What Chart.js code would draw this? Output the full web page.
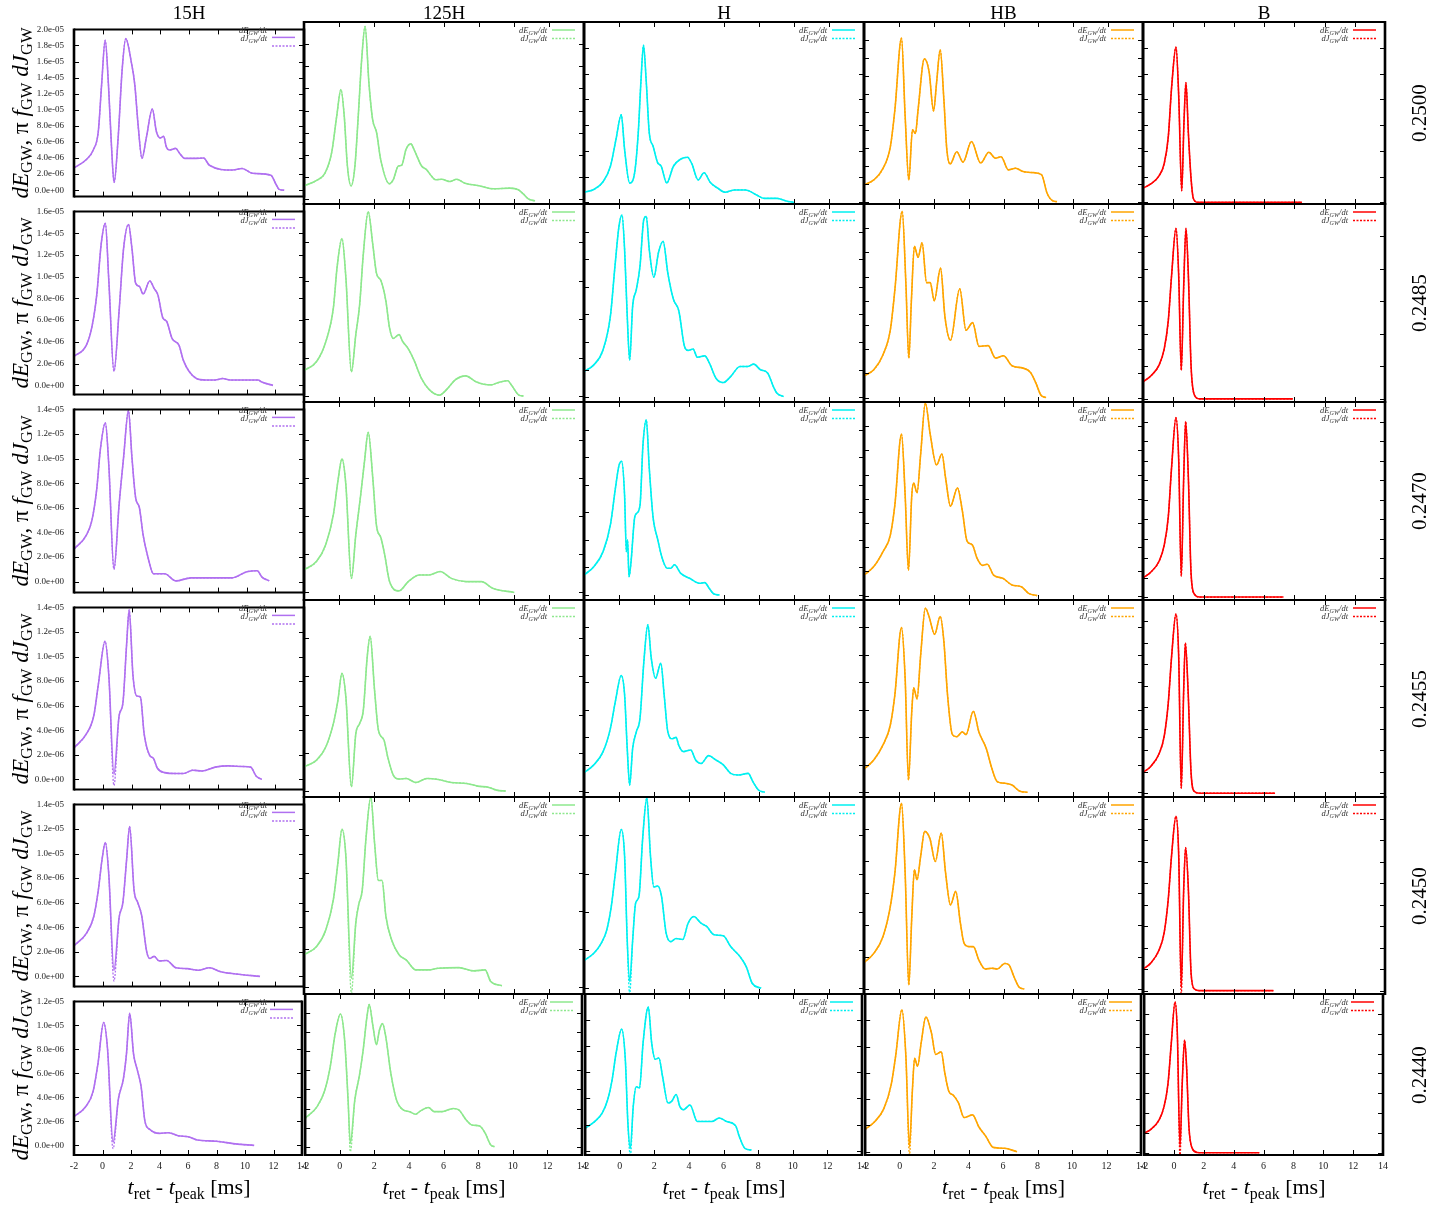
<!DOCTYPE html>
<html>
<head>
<meta charset="utf-8">
<script src="https://cdn.jsdelivr.net/npm/chart.js@4.4.1/dist/chart.umd.min.js"></script>
<style>
  body { margin: 0; width: 1451px; height: 1205px; background: #fff; position: relative; overflow: hidden;
         font-family: "Liberation Serif", "DejaVu Serif", serif; color: #000; }
  canvas { position: absolute; }
  .txt { position: absolute; white-space: nowrap; line-height: 1; }
  .ctitle { font-size: 19px; transform: translate(-50%, -50%); }
  .xtitle { font-size: 22px; transform: translate(-50%, -50%); }
  .rlab { font-size: 21px; transform: translate(-50%, -50%) rotate(-90deg); }
  .ytitle { font-size: 23px; transform: translate(-50%, -50%) rotate(-90deg); }
  .leg { position: absolute; transform: translateX(-100%); text-align: right; font-size: 8.5px; font-style: italic;
         line-height: 8.5px; color: #333; white-space: nowrap; }
  sub { font-size: 0.72em; vertical-align: -0.3em; line-height: 0; font-style: normal; }
  .leg sub { font-style: italic; }
</style>
</head>
<body>
<script>
"use strict";

// column / row names
const models = ["15H", "125H", "H", "HB", "B"];
const ratios = ["0.2500", "0.2485", "0.2470", "0.2455", "0.2450", "0.2440"];
const colors = ["#b070f0", "#8ee88e", "#00f0f0", "#ffa500", "#ff0000"];
const xTicks = [-2, 0, 2, 4, 6, 8, 10, 12, 14];

// dE_GW/dt curves, [t_ret - t_peak (ms), value (1e-6)]
// ---- row 0.2500
const s15H_2500 = [[-2,2.77],[-1.12,3.85],[-0.66,5.0],[-0.31,7.3],[-0.08,13.1],[0.17,18.65],[0.40,13.0],[0.61,5.4],[0.79,0.96],[1.07,6.5],[1.35,15.0],[1.60,18.85],[2.0,15.8],[2.23,13.1],[2.46,8.1],[2.73,3.96],[3.03,6.5],[3.45,10.1],[3.73,7.3],[4.0,6.5],[4.24,6.7],[4.42,5.4],[4.65,5.0],[5.07,5.2],[5.34,4.6],[5.69,3.96],[6.5,3.96],[7.01,4.0],[7.42,3.1],[9.04,2.5],[9.69,2.7],[10.42,2.1],[11.7,1.85],[12.04,0.77],[12.27,0.1],[12.62,0]];
const s125H_2500 = [[-2,1.2],[-1.28,1.7],[-0.8,2.36],[-0.42,4.2],[-0.13,7.5],[0.11,9.9],[0.3,7.5],[0.48,3.0],[0.69,1.2],[0.91,3.0],[1.1,7.5],[1.3,12.7],[1.49,15.6],[1.71,10.5],[1.92,7.2],[2.15,6.0],[2.38,3.6],[2.88,1.4],[3.1,1.76],[3.39,3.0],[3.58,3.06],[3.83,4.5],[4.1,5.0],[4.34,4.3],[4.72,3.0],[5.0,2.67],[5.3,2.06],[5.52,1.76],[5.87,1.8],[6.34,1.6],[6.72,1.8],[7.2,1.45],[8.06,1.2],[8.82,0.94],[9.77,1.0],[10.25,0.85],[10.53,0.48],[10.82,0.03],[11.2,-0.15]];
const sH_2500 = [[-2,0.78],[-1.44,1.0],[-0.91,1.6],[-0.49,2.8],[-0.17,4.9],[0.13,6.8],[0.32,4.1],[0.61,1.5],[0.89,2.27],[1.1,5.4],[1.25,9.3],[1.4,12.2],[1.56,9.3],[1.73,5.4],[1.95,4.35],[2.2,3.1],[2.41,2.8],[2.73,1.5],[3.11,2.8],[3.53,3.36],[3.91,3.5],[4.16,3.0],[4.52,1.74],[4.86,2.3],[5.22,1.54],[5.64,1.1],[6.07,0.78],[6.6,0.96],[7.23,0.96],[7.86,0.57],[8.29,0.31],[9.03,0.31],[9.56,0.1],[10.02,0]];
const sHB_2500 = [[-2,1.86],[-1.44,2.42],[-0.91,3.7],[-0.49,6.1],[-0.23,10.2],[0.15,18.2],[0.36,9.5],[0.57,2.42],[0.78,8.0],[0.95,7.6],[1.1,10.2],[1.46,15.9],[1.73,14.5],[1.99,10.1],[2.16,13.2],[2.37,16.9],[2.58,11.4],[2.75,5.8],[2.94,4.2],[3.32,5.55],[3.68,4.4],[4.16,6.7],[4.69,4.3],[5.16,5.5],[5.54,4.84],[5.86,5.0],[6.28,3.54],[6.7,3.72],[7.12,3.35],[7.65,3.24],[8.18,3.0],[8.5,0.93],[8.82,0.1],[9.07,0]];
const sB_2500 = [[-2,1.1],[-1.49,1.43],[-0.93,2.08],[-0.6,3.0],[-0.33,5.06],[-0.11,8.9],[0.18,12.05],[0.36,8.3],[0.56,0.9],[0.71,6.25],[0.84,9.3],[1.0,5.36],[1.18,1.8],[1.33,0.3],[1.62,0],[8.51,0]];
// ---- row 0.2485
const s15H_2485 = [[-2,2.66],[-1.14,3.7],[-0.75,5.4],[-0.42,8.3],[-0.1,13.1],[0.18,14.9],[0.42,9.7],[0.78,1.3],[1.14,6.9],[1.45,12.6],[1.79,14.8],[2.03,12.6],[2.29,9.4],[2.55,9.1],[2.81,8.4],[3.27,9.6],[3.58,8.9],[3.84,8.3],[4.18,6.2],[4.44,5.9],[4.83,4.3],[5.3,3.7],[5.61,2.3],[6.0,1.3],[6.52,0.63],[7.17,0.49],[7.82,0.49],[8.34,0.63],[8.86,0.49],[10.81,0.49],[11.06,0.3],[11.84,0]];
const s125H_2485 = [[-2,1.33],[-1.28,1.8],[-0.75,2.84],[-0.32,4.6],[-0.11,6.7],[0.17,8.2],[0.39,6.2],[0.71,1.27],[0.96,3.2],[1.18,4.76],[1.39,7.4],[1.67,9.6],[1.93,7.9],[2.14,6.4],[2.4,6.0],[2.68,4.94],[2.89,3.54],[3.1,3.0],[3.43,3.2],[3.64,2.84],[3.96,2.46],[4.28,1.88],[4.71,0.92],[5.14,0.35],[5.74,0.05],[6.21,0.4],[6.64,0.84],[7.24,1.05],[7.82,0.75],[8.67,0.58],[9.1,0.7],[9.64,0.8],[9.85,0.58],[10.28,0.05],[10.54,0]];
const sH_2485 = [[-2,1.87],[-1.44,2.35],[-0.91,3.45],[-0.49,5.9],[-0.23,9.5],[0,12.4],[0.17,13.2],[0.32,10.7],[0.47,5.9],[0.61,2.7],[0.78,6.6],[0.99,7.8],[1.2,9.5],[1.42,12.9],[1.56,13.1],[1.73,10.7],[1.99,8.7],[2.26,10.5],[2.52,11.3],[2.79,9.0],[3.11,7.1],[3.42,6.25],[3.74,3.7],[3.95,3.4],[4.23,3.5],[4.48,2.9],[4.9,3.0],[5.16,2.5],[5.54,1.38],[5.96,1.07],[6.38,1.5],[6.91,2.23],[7.34,2.23],[7.7,2.4],[8.08,2.0],[8.5,1.75],[8.82,0.78],[9.03,0.29],[9.41,0.05]];
const sHB_2485 = [[-2,1.8],[-1.44,2.3],[-0.91,3.55],[-0.49,5.6],[-0.23,8.9],[0.19,15.4],[0.4,9.5],[0.57,3.27],[0.72,8.1],[0.89,12.5],[1.1,11.6],[1.33,12.8],[1.59,9.5],[1.8,9.5],[2.03,8.0],[2.39,10.7],[2.64,6.7],[2.96,4.74],[3.49,9.0],[3.85,5.57],[4.23,6.2],[4.59,4.24],[5.12,4.3],[5.54,3.27],[6.0,3.46],[6.49,2.63],[7.12,2.44],[7.55,2.08],[7.86,1.2],[8.14,0.22],[8.44,0]];
const sB_2485 = [[-2,1.06],[-1.49,1.41],[-0.93,2.1],[-0.6,3.06],[-0.33,4.8],[-0.11,7.6],[0.18,10.5],[0.36,7.6],[0.53,1.76],[0.69,6.9],[0.84,10.5],[1.0,7.6],[1.18,2.0],[1.4,0.24],[1.73,0],[7.91,0]];
// ---- row 0.2470
const s15H_2470 = [[-2,2.64],[-1.14,3.77],[-0.75,5.0],[-0.42,7.5],[-0.16,10.8],[0.18,12.9],[0.42,9.5],[0.78,1.0],[1.14,6.3],[1.45,10.1],[1.79,13.9],[2.03,10.1],[2.29,6.8],[2.55,6.0],[2.81,3.77],[3.14,2.0],[3.53,0.63],[4.31,0.63],[5.09,0.05],[6.13,0.3],[8.99,0.3],[10.03,0.8],[10.75,0.88],[11.06,0.38],[11.58,0.05]];
const s125H_2470 = [[-2,1.15],[-1.28,1.6],[-0.75,2.5],[-0.32,4.07],[-0.06,5.84],[0.17,7.0],[0.39,5.66],[0.71,0.7],[0.96,3.0],[1.24,5.1],[1.46,6.9],[1.67,8.4],[1.93,6.0],[2.14,3.5],[2.4,2.83],[2.61,1.95],[2.89,0.53],[3.43,0.04],[3.96,0.53],[4.6,0.88],[5.14,0.88],[5.78,1.06],[6.42,0.7],[7.28,0.53],[8.14,0.53],[8.78,0.18],[10.02,-0.04]];
const sH_2470 = [[-2,1.45],[-1.44,2.06],[-0.91,3.15],[-0.49,5.1],[-0.21,7.7],[0,9.4],[0.15,9.7],[0.32,7.2],[0.42,3.15],[0.49,4.0],[0.57,1.33],[0.68,2.3],[0.89,5.6],[0.99,5.9],[1.2,6.5],[1.37,10.9],[1.56,12.7],[1.73,9.2],[1.95,5.6],[2.2,4.1],[2.47,2.66],[2.75,1.94],[2.96,1.94],[3.17,2.2],[3.53,1.57],[4.06,1.2],[4.59,0.85],[4.9,0.9],[5.16,0.48],[5.43,0.07],[5.75,0]];
const sHB_2470 = [[-2,1.7],[-1.44,2.4],[-0.91,3.64],[-0.49,5.0],[-0.23,7.5],[0.15,13.35],[0.36,8.3],[0.55,2.1],[0.74,8.3],[0.85,9.3],[1.04,8.5],[1.25,11.7],[1.52,15.9],[1.8,13.3],[2.16,10.8],[2.47,11.7],[2.68,9.7],[2.96,7.4],[3.36,8.9],[3.64,7.0],[3.91,4.5],[4.21,4.2],[4.48,3.1],[4.8,2.5],[5.07,2.6],[5.43,1.7],[5.96,1.43],[6.49,0.88],[7.02,0.74],[7.44,0.19],[7.93,0]];
const sB_2470 = [[-2,1.96],[-1.49,2.55],[-0.93,3.7],[-0.6,5.3],[-0.33,8.2],[-0.11,13.3],[0.18,18.4],[0.36,14.1],[0.53,2.16],[0.69,12.2],[0.82,18.0],[1.0,12.2],[1.18,2.35],[1.4,0.3],[1.73,0],[7.29,0]];
// ---- row 0.2455
const s15H_2455 = [[-2,2.57],[-1.14,3.7],[-0.62,5.2],[-0.31,7.7],[0.16,11.25],[0.42,8.5],[0.78,0.43],[1.14,5.2],[1.4,6.2],[1.66,11.0],[1.84,13.8],[2.1,8.5],[2.36,6.8],[2.62,6.7],[2.88,3.7],[3.27,1.94],[3.53,1.7],[3.79,0.93],[4.31,0.55],[5.09,0.48],[5.61,0.48],[6.26,0.75],[6.91,0.68],[7.82,1.0],[8.73,1.1],[9.77,1.05],[10.29,1.0],[10.68,0.25],[11.06,0]];
const s125H_2455 = [[-2,1.27],[-1.28,1.62],[-0.75,2.32],[-0.32,3.54],[-0.06,4.76],[0.17,6.16],[0.39,4.94],[0.71,0.23],[0.96,3.0],[1.18,3.54],[1.39,4.24],[1.61,7.0],[1.78,8.1],[2.03,5.3],[2.25,3.2],[2.57,2.67],[2.78,1.8],[3.1,0.84],[3.43,0.63],[3.85,0.66],[4.39,0.45],[5.03,0.66],[5.67,0.61],[6.42,0.45],[7.28,0.4],[7.92,0.26],[8.57,0.19],[9.0,0.05],[9.53,0]];
const sH_2455 = [[-2,1.43],[-1.44,2.0],[-0.91,2.96],[-0.49,4.66],[-0.21,6.6],[0.13,8.5],[0.32,7.1],[0.47,3.2],[0.61,0.53],[0.78,3.2],[0.99,4.4],[1.2,5.4],[1.42,9.5],[1.65,12.2],[1.84,9.8],[2.09,8.3],[2.39,9.4],[2.58,7.1],[2.79,4.4],[3.04,3.9],[3.26,4.0],[3.42,3.4],[3.68,2.96],[4.1,3.08],[4.38,2.35],[4.69,2.1],[5.12,2.67],[5.54,2.35],[5.96,2.0],[6.38,1.38],[6.81,1.26],[7.38,1.38],[7.65,0.78],[7.97,0.17],[8.33,0]];
const sHB_2455 = [[-2,1.7],[-1.44,2.35],[-0.91,3.45],[-0.49,4.9],[-0.23,7.1],[0.15,12.0],[0.36,8.3],[0.55,0.9],[0.74,5.9],[0.85,7.6],[1.04,6.8],[1.25,10.0],[1.52,13.4],[1.73,12.8],[2.05,11.5],[2.37,12.8],[2.58,11.0],[2.79,7.1],[3.07,4.2],[3.32,4.05],[3.64,4.4],[3.85,4.2],[4.27,5.9],[4.59,4.4],[5.01,3.2],[5.33,1.75],[5.64,0.78],[6.07,0.66],[6.49,0.53],[6.91,0.1],[7.38,0]];
const sB_2455 = [[-2,1.93],[-1.49,2.5],[-0.93,3.7],[-0.6,5.3],[-0.33,8.4],[-0.11,12.7],[0.18,16.7],[0.36,12.7],[0.53,0.47],[0.69,9.6],[0.8,14.0],[0.98,9.6],[1.18,1.86],[1.4,0.16],[1.73,0],[6.73,0]];
// ---- row 0.2450
const s15H_2450 = [[-2,2.5],[-1.14,3.5],[-0.62,4.9],[-0.31,7.0],[-0.05,9.5],[0.18,10.9],[0.42,8.3],[0.78,0.5],[1.14,4.8],[1.4,6.0],[1.66,9.5],[1.87,12.2],[2.18,7.0],[2.44,6.0],[2.7,5.0],[3.06,2.0],[3.27,1.46],[3.58,1.63],[3.92,1.26],[4.44,1.3],[5.09,0.7],[5.87,0.63],[6.65,0.5],[7.43,0.7],[8.21,0.38],[9.25,0.2],[10.94,0]];
const s125H_2450 = [[-2,1.68],[-1.28,2.12],[-0.75,3.0],[-0.32,4.6],[-0.06,6.55],[0.17,8.3],[0.39,6.9],[0.71,0.44],[0.96,3.36],[1.13,4.34],[1.33,5.1],[1.54,7.8],[1.82,10.0],[2.03,7.6],[2.25,5.6],[2.46,5.6],[2.68,3.7],[3.0,2.48],[3.43,1.68],[3.85,1.4],[4.39,0.88],[5.14,0.88],[5.67,0.97],[6.85,1.0],[7.71,0.83],[8.35,0.88],[8.67,0.27],[9.31,0.05]];
const sH_2450 = [[-2,1.45],[-1.44,1.83],[-1.01,2.36],[-0.7,3.05],[-0.44,4.28],[-0.21,6.0],[0.13,8.3],[0.32,6.9],[0.47,2.5],[0.61,0.35],[0.78,2.5],[0.95,4.45],[1.14,4.8],[1.35,7.8],[1.59,9.95],[1.8,6.9],[1.99,5.3],[2.22,5.35],[2.43,4.8],[2.69,2.9],[2.96,2.44],[3.26,2.6],[3.64,2.55],[3.95,3.4],[4.27,3.75],[4.69,3.4],[5.01,3.23],[5.43,2.8],[5.96,2.74],[6.38,2.18],[6.91,1.66],[7.27,1.13],[7.61,0.26],[8.12,0]];
const sHB_2450 = [[-2,1.65],[-1.44,2.23],[-0.91,3.28],[-0.49,5.16],[-0.23,7.24],[0.15,11.6],[0.36,7.24],[0.57,0.25],[0.74,4.5],[0.89,7.45],[1.04,6.83],[1.25,8.3],[1.48,9.85],[1.78,9.4],[2.09,7.97],[2.43,9.75],[2.68,7.24],[2.96,5.26],[3.26,6.1],[3.53,4.1],[3.74,2.86],[4.06,2.65],[4.27,2.65],[4.59,1.8],[4.95,1.25],[5.33,1.3],[5.64,1.25],[6.07,1.6],[6.32,1.5],[6.6,0.77],[6.91,0.1],[7.19,0]];
const sB_2450 = [[-2,2.0],[-1.49,2.56],[-0.93,3.8],[-0.6,5.4],[-0.33,8.5],[-0.11,12.6],[0.18,16.2],[0.36,12.6],[0.53,0.38],[0.69,9.4],[0.82,13.3],[1.0,9.4],[1.18,1.6],[1.4,0.16],[1.73,0],[6.62,0]];
// ---- row 0.2440
const s15H_2440 = [[-2,2.4],[-1.2,3.2],[-0.66,4.5],[-0.32,6.8],[0.08,10.24],[0.35,8.1],[0.74,0.27],[1.12,3.9],[1.46,5.5],[1.68,7.6],[1.91,11.0],[2.18,7.6],[2.45,6.25],[2.71,4.9],[2.98,2.0],[3.32,1.33],[3.99,1.0],[4.65,1.06],[5.32,0.8],[6.01,0.72],[6.65,0.45],[7.98,0.35],[9.31,0.13],[10.64,0]];
const s125H_2440 = [[-2,2.97],[-1.31,4.2],[-0.87,5.9],[-0.55,8.4],[-0.26,11.9],[0.04,13.9],[0.28,11.2],[0.48,4.9],[0.61,0.35],[0.87,4.9],[1.14,7.5],[1.35,10.1],[1.57,13.6],[1.7,14.9],[1.92,12.6],[2.12,10.7],[2.29,12.2],[2.47,12.9],[2.66,11.5],[2.95,7.7],[3.28,4.9],[3.67,3.85],[4.04,3.67],[4.37,3.4],[4.69,3.78],[5.13,4.1],[5.46,3.67],[5.9,3.67],[6.55,4.0],[6.88,3.85],[7.31,2.8],[7.64,2.27],[8.08,2.17],[8.41,1.4],[8.73,0.17],[8.95,0]];
const sH_2440 = [[-2,1.72],[-1.44,2.24],[-1.01,2.9],[-0.7,3.9],[-0.44,5.45],[-0.21,7.5],[0.11,9.3],[0.32,7.0],[0.47,2.1],[0.61,0.18],[0.78,3.4],[0.95,4.9],[1.14,4.8],[1.35,8.3],[1.65,11.0],[1.84,8.3],[2.05,7.0],[2.26,7.1],[2.47,5.7],[2.79,3.65],[3.0,3.78],[3.26,4.3],[3.47,3.4],[3.68,3.14],[4.06,3.5],[4.48,2.24],[4.9,2.24],[5.33,2.24],[5.75,2.5],[6.17,2.24],[6.7,1.9],[6.91,1.08],[7.23,0.18],[7.61,0.05]];
const sHB_2440 = [[-2,1.7],[-1.44,2.3],[-0.91,3.3],[-0.49,5.1],[-0.23,7.3],[0.13,10.8],[0.36,7.3],[0.57,0.38],[0.74,4.7],[0.87,7.1],[1.04,6.5],[1.25,8.3],[1.52,10.25],[1.84,9.06],[2.09,7.4],[2.41,7.6],[2.62,6.0],[2.85,4.6],[3.11,4.3],[3.42,3.7],[3.74,2.6],[4.23,2.8],[4.59,1.9],[5.01,1.15],[5.43,0.33],[6.07,0.26],[6.81,0]];
const sB_2440 = [[-2,1.96],[-1.55,2.36],[-1.0,3.3],[-0.66,4.7],[-0.4,7.0],[-0.18,11.1],[0.07,15.2],[0.22,12.1],[0.4,0.6],[0.55,7.0],[0.71,11.35],[0.84,8.7],[1.0,2.6],[1.22,0.44],[1.55,0.03],[1.99,0],[5.71,0]];

// dJ_GW/dt follows dE_GW/dt except at the first dip, where it drops lower: [t, value]
const dJDip = [
  [null, null, null, null, null],
  [null, null, null, null, null],
  [null, null, null, null, null],
  [[0.78, -0.5], null, null, null, null],
  [[0.78, -0.38], [0.71, -0.35], [0.61, -0.3], null, [0.53, -0.4]],
  [[0.74, -0.27], [0.61, -0.52], [0.61, -0.45], [0.57, -0.25], [0.4, -0.4]]
];

// y axis top / bottom of each panel (1e-6), ticks every 2
const yTop = [
  [20, 16, 14, 20, 14],
  [16, 10, 14, 16, 12],
  [14, 10, 14, 16, 20],
  [14, 10, 14, 14, 18],
  [14, 10, 10, 12, 18],
  [12, 16, 12, 12, 16]
];
const yMin = [
  [-0.8, -0.43, -0.13, -0.26, -0.13],
  [-0.85, -0.31, -0.34, -0.36, -0.19],
  [-0.9, -0.44, -0.36, -0.36, -0.3],
  [-0.83, -0.31, -0.34, -0.34, -0.35],
  [-0.83, -0.39, -0.3, -0.31, -0.31],
  [-0.8, -0.87, -0.33, -0.25, -0.23]
];

const curves = [
  [s15H_2500, s125H_2500, sH_2500, sHB_2500, sB_2500],
  [s15H_2485, s125H_2485, sH_2485, sHB_2485, sB_2485],
  [s15H_2470, s125H_2470, sH_2470, sHB_2470, sB_2470],
  [s15H_2455, s125H_2455, sH_2455, sHB_2455, sB_2455],
  [s15H_2450, s125H_2450, sH_2450, sHB_2450, sB_2450],
  [s15H_2440, s125H_2440, sH_2440, sHB_2440, sB_2440]
];

// page layout of the plot frames
const colLeft = [74, 304, 584, 864, 1143];
const colRight = [304, 584, 864, 1143, 1385];
const rowTop = [22, 204, 402, 600, 797, 994];
const rowBottom = [204, 402, 600, 797, 994, 1155];

const yTickFont = { family: "'Liberation Serif', serif", size: 9 };
const xTickFont = { family: "'Liberation Serif', serif", size: 10 };

function fmtExp(v) {
  const val = v * 1e-6;
  if (Math.abs(val) < 1e-12) return "0.0e+00";
  const parts = val.toExponential(1).split("e");
  const ex = parseInt(parts[1], 10);
  return parts[0] + "e" + (ex < 0 ? "-" : "+") + String(Math.abs(ex)).padStart(2, "0");
}

// gnuplot style frame: border, inward ticks on all sides, legend samples
const frame = {
  id: "frame",
  afterDraw(chart) {
    const { ctx, chartArea: a, scales } = chart;
    const o = chart.options.plugins.frame;
    ctx.save();
    ctx.strokeStyle = "#000";
    ctx.lineWidth = 1;
    ctx.beginPath();
    xTicks.forEach(v => {
      const px = Math.round(scales.x.getPixelForValue(v)) + 0.5;
      ctx.moveTo(px, a.bottom); ctx.lineTo(px, a.bottom - 5);
      ctx.moveTo(px, a.top); ctx.lineTo(px, a.top + 5);
    });
    o.yTicks.forEach(v => {
      const py = Math.round(scales.y.getPixelForValue(v)) + 0.5;
      ctx.moveTo(a.left, py); ctx.lineTo(a.left + 5, py);
      ctx.moveTo(a.right, py); ctx.lineTo(a.right - 5, py);
    });
    ctx.stroke();

    ctx.lineWidth = 2;
    ctx.beginPath();
    ctx.moveTo(a.left, a.top); ctx.lineTo(a.right, a.top);
    ctx.moveTo(a.left, a.bottom); ctx.lineTo(a.right, a.bottom);
    ctx.stroke();
    ctx.lineWidth = 2.6;
    ctx.beginPath();
    ctx.moveTo(a.left, a.top - 1); ctx.lineTo(a.left, a.bottom + 1);
    ctx.moveTo(a.right, a.top - 1); ctx.lineTo(a.right, a.bottom + 1);
    ctx.stroke();

    ctx.strokeStyle = o.color;
    ctx.lineWidth = 1.5;
    ctx.beginPath();
    ctx.moveTo(a.right - 32, a.top + 8); ctx.lineTo(a.right - 9, a.top + 8);
    ctx.stroke();
    ctx.setLineDash([2, 1.5]);
    ctx.beginPath();
    ctx.moveTo(a.right - 32, a.top + 16.5); ctx.lineTo(a.right - 9, a.top + 16.5);
    ctx.stroke();
    ctx.restore();
  }
};

function addText(cls, html, x, y) {
  const d = document.createElement("div");
  d.className = "txt " + cls;
  d.innerHTML = html;
  d.style.left = x + "px";
  d.style.top = y + "px";
  document.body.appendChild(d);
}

function makePanel(r, c) {
  const P = 8;
  const extraL = c === 0 ? 66 : 0;
  const extraB = r === 5 ? 22 : 0;
  const L = colLeft[c], R = colRight[c], T = rowTop[r], B = rowBottom[r];

  const cv = document.createElement("canvas");
  cv.width = (R - L) + 2 * P + extraL;
  cv.height = (B - T) + 2 * P + extraB;
  cv.style.left = (L - P - extraL) + "px";
  cv.style.top = (T - P) + "px";
  document.body.appendChild(cv);

  const dE = curves[r][c];
  const dip = dJDip[r][c];
  const dJ = dE.map(p => (dip && p[0] === dip[0]) ? [p[0], dip[1]] : p);
  const yTicks = [];
  for (let v = 0; v <= yTop[r][c] + 1e-9; v += 2) yTicks.push(v);

  new Chart(cv, {
    type: "line",
    data: {
      datasets: [
        { label: "dJ_GW/dt", data: dJ, borderColor: colors[c], borderWidth: 1.3, borderDash: [2, 1.5],
          pointRadius: 0, cubicInterpolationMode: "monotone" },
        { label: "dE_GW/dt", data: dE, borderColor: colors[c], borderWidth: 1.6,
          pointRadius: 0, cubicInterpolationMode: "monotone" }
      ]
    },
    options: {
      responsive: false,
      animation: false,
      events: [],
      devicePixelRatio: 1,
      layout: { padding: { left: P, right: P, top: P, bottom: P } },
      plugins: {
        legend: { display: false },
        tooltip: { enabled: false },
        frame: { yTicks: yTicks, color: colors[c] }
      },
      scales: {
        x: {
          type: "linear", min: -2, max: 14, display: r === 5,
          afterBuildTicks: s => { s.ticks = xTicks.map(v => ({ value: v })); },
          afterFit: s => { s.height = extraB; },
          grid: { display: false, drawTicks: false },
          border: { display: false },
          ticks: { font: xTickFont, color: "#222", padding: 5, maxRotation: 0, autoSkip: false }
        },
        y: {
          type: "linear", min: yMin[r][c], max: yTop[r][c], display: c === 0,
          afterBuildTicks: s => { s.ticks = yTicks.map(v => ({ value: v })); },
          afterFit: s => { s.width = extraL; },
          grid: { display: false, drawTicks: false },
          border: { display: false },
          ticks: { font: yTickFont, color: "#222", padding: 10, autoSkip: false, callback: v => fmtExp(v) }
        }
      }
    },
    plugins: [frame]
  });

  // legend text, right aligned before the line samples
  const lg = document.createElement("div");
  lg.className = "leg";
  lg.style.left = (R - 37) + "px";
  lg.style.top = (T + 3.5) + "px";
  lg.innerHTML = "<div>dE<sub>GW</sub>/dt</div><div>dJ<sub>GW</sub>/dt</div>";
  document.body.appendChild(lg);
}

for (let r = 0; r < ratios.length; r++) {
  for (let c = 0; c < models.length; c++) makePanel(r, c);
}

// titles and axis labels
models.forEach((m, c) => {
  const cx = (colLeft[c] + colRight[c]) / 2;
  addText("ctitle", m, cx, 12);
  addText("xtitle", "<i>t</i><sub>ret</sub> - <i>t</i><sub>peak</sub> [ms]", cx, 1187);
});
ratios.forEach((q, r) => {
  const cy = (rowTop[r] + rowBottom[r]) / 2;
  addText("rlab", q, 1419, cy);
  addText("ytitle", "<i>dE</i><sub>GW</sub>, π <i>f</i><sub>GW</sub> <i>dJ</i><sub>GW</sub>", 20, cy);
});
</script>
</body>
</html>
